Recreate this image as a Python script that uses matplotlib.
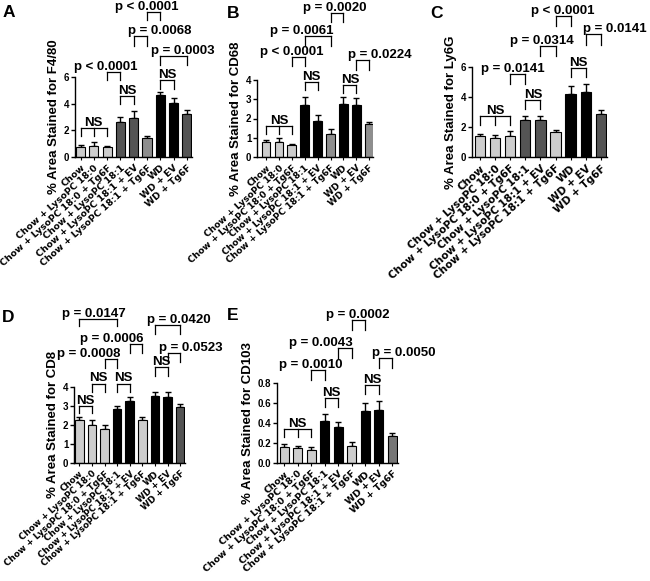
import numpy as np
import matplotlib
matplotlib.use("Agg")
import matplotlib.pyplot as plt

plt.rcParams['font.family'] = ['Liberation Sans', 'DejaVu Sans']
plt.rcParams['font.weight'] = 'bold'

groups = ["Chow", "Chow + LysoPC 18:0", "Chow + LysoPC 18:0 + Tg6F",
          "Chow + LysoPC 18:1", "Chow + LysoPC 18:1 + EV", "Chow + LysoPC 18:1 + Tg6F",
          "WD", "WD + EV", "WD + Tg6F"]

# mean and upper error (SEM) per group
f480_mean = [0.72, 0.85, 0.72, 2.65, 2.95, 1.4, 4.65, 4.02, 3.22]
f480_err = [0.15, 0.3, 0.13, 0.35, 0.5, 0.2, 0.22, 0.38, 0.28]
cd68_mean = [0.8, 0.8, 0.6, 2.68, 1.85, 1.22, 2.73, 2.68, 1.69]
cd68_err = [0.1, 0.17, 0.1, 0.42, 0.35, 0.24, 0.37, 0.36, 0.15]
ly6g_mean = [1.4, 1.24, 1.42, 2.49, 2.49, 1.69, 4.22, 4.33, 2.87]
ly6g_err = [0.13, 0.25, 0.29, 0.27, 0.27, 0.13, 0.51, 0.51, 0.24]
cd8_mean = [2.28, 2.0, 1.79, 2.84, 3.28, 2.28, 3.54, 3.49, 2.95]
cd8_err = [0.12, 0.28, 0.23, 0.18, 0.22, 0.16, 0.2, 0.23, 0.17]
cd103_mean = [0.16, 0.147, 0.13, 0.42, 0.36, 0.17, 0.52, 0.533, 0.27]
cd103_err = [0.03, 0.026, 0.03, 0.07, 0.055, 0.04, 0.08, 0.087, 0.03]

# significance brackets: bars, line height, tick bottom, label, label x
f480_sig = [([0, 1, 2], 2.18, 1.6, "NS", 1), ([2, 3], 6.35, 5.8, "p < 0.0001", 1.9),
            ([3, 4], 4.55, 4.0, "NS", 3.5), ([6, 7], 5.8, 5.1, "NS", 6.5),
            ([6, 8], 7.6, 6.93, "p = 0.0003", 7.67), ([4, 5], 9.05, 8.3, "p = 0.0068", 5.95),
            ([5, 6], 10.85, 10.25, "p < 0.0001", 4.95)]
cd68_sig = [([0, 1, 2], 1.6, 1.22, "NS", 1), ([2, 3], 5.17, 4.73, "p < 0.0001", 2.0),
            ([3, 4], 3.91, 3.48, "NS", 3.5), ([3, 5], 6.26, 5.77, "p = 0.0061", 2.75),
            ([5, 6], 7.48, 6.99, "p = 0.0020", 5.35), ([6, 7], 3.74, 3.3, "NS", 6.5),
            ([7, 8], 5.04, 4.52, "p = 0.0224", 8.85)]
ly6g_sig = [([0, 1, 2], 2.71, 2.11, "NS", 1), ([2, 3], 5.51, 4.89, "p = 0.0141", 2.2),
            ([3, 4], 3.82, 3.22, "NS", 3.5), ([4, 5], 7.38, 6.71, "p = 0.0314", 4.1),
            ([5, 6], 9.38, 8.71, "p < 0.0001", 5.5), ([6, 7], 5.93, 5.33, "NS", 6.5),
            ([7, 8], 8.18, 7.44, "p = 0.0141", 8.9)]
cd8_sig = [([0, 1], 3.02, 2.63, "NS", 0.5), ([1, 2], 4.18, 3.72, "NS", 1.5),
           ([2, 3], 5.47, 5.0, "p = 0.0008", 0.72), ([3, 4], 4.18, 3.72, "NS", 3.5),
           ([4, 5], 6.28, 5.79, "p = 0.0006", 2.6), ([0, 3], 7.58, 7.19, "p = 0.0147", 1.17),
           ([6, 7], 5.05, 4.56, "NS", 6.5), ([6, 8], 7.28, 6.81, "p = 0.0420", 7.87),
           ([7, 8], 5.79, 5.3, "p = 0.0523", 8.85)]
cd103_sig = [([0, 1, 2], 0.343, 0.26, "NS", 1), ([2, 3], 0.927, 0.833, "p = 0.0010", 1.97),
             ([3, 4], 0.65, 0.56, "NS", 3.5), ([4, 5], 1.153, 1.053, "p = 0.0043", 2.7),
             ([5, 6], 1.427, 1.327, "p = 0.0002", 5.47), ([6, 7], 0.777, 0.687, "NS", 6.5),
             ([7, 8], 1.053, 0.953, "p = 0.0050", 8.85)]

L, D, M, K = "#cdcdcd", "#545454", "#8e8e8e", "#000000"

# panel setup: letter, means, errors, brackets, ylabel, yticks, colours,
# pixel box (spine x, first bar x, bar step, right end, y of top tick, y of zero)
panels = [
    ("A", f480_mean, f480_err, f480_sig, "F4/80", [0, 2, 4, 6], [L, L, L, D, D, M, K, K, D],
     (75, 80.5, 13.3, 192, 77, 157), (3, 5)),
    ("B", cd68_mean, cd68_err, cd68_sig, "CD68", [0, 1, 2, 3, 4], [L, L, L, K, K, M, K, K, M],
     (257, 266, 12.9, 373, 80, 157), (227, 6)),
    ("C", ly6g_mean, ly6g_err, ly6g_sig, "Ly6G", [0, 2, 4, 6], [L, L, L, D, D, L, K, K, D],
     (472, 480, 15.1, 607, 67, 157), (430, 6)),
    ("D", cd8_mean, cd8_err, cd8_sig, "CD8", [0, 1, 2, 3, 4], [L, L, L, K, K, L, K, K, D],
     (74, 79.3, 12.6, 185, 387, 463), (2, 310)),
    ("E", cd103_mean, cd103_err, cd103_sig, "CD103", [0, 0.2, 0.4, 0.6, 0.8],
     [L, L, L, K, K, L, K, K, "#767676"],
     (277, 284.3, 13.5, 398, 383, 463), (227, 308)),
]

W, H = 650, 581
fig = plt.figure(figsize=(W / 100, H / 100), dpi=100)

for letter, mean, err, sig, marker, yt, cols, box, lpos in panels:
    sx, c0, step, rx, ytop, ybot = box
    ax = fig.add_axes([sx / W, 1 - ybot / H, (rx - sx) / W, (ybot - ytop) / H])
    x = np.arange(len(groups))
    ax.bar(x, mean, width=0.68, color=cols, edgecolor="black", linewidth=0.8, zorder=2)
    ax.errorbar(x, mean, yerr=[np.zeros(len(err)), err], fmt="none", ecolor="black",
                elinewidth=1, capsize=2.2, capthick=1, zorder=1)
    ax.set_xlim(-(c0 - sx) / step, 8 + (rx - (c0 + 8 * step)) / step)
    ax.set_ylim(0, yt[-1])
    ax.set_yticks(yt)
    if isinstance(yt[1], float):
        ax.set_yticklabels([f"{v:.1f}" for v in yt])
    ax.set_xticks(x)
    # label size follows the bar spacing of each panel
    ax.set_xticklabels(groups, rotation=42, ha="right", rotation_mode="anchor",
                       fontsize=0.5 * step, family="DejaVu Sans", fontweight="bold")
    ax.tick_params(axis="y", direction="out", length=3, width=1, labelsize=7, pad=1)
    ax.tick_params(axis="x", direction="out", length=2.5, width=0.8, pad=2)
    for s in ["top", "right"]:
        ax.spines[s].set_visible(False)
    for s in ["left", "bottom"]:
        ax.spines[s].set_linewidth(1)
    ax.set_ylabel("% Area Stained for " + marker, fontsize=9.5, fontweight="bold", labelpad=3)

    for ticks, yl, yd, label, tx in sig:
        ax.plot([ticks[0], ticks[-1]], [yl, yl], color="black", lw=0.9, clip_on=False)
        for t in ticks:
            ax.plot([t, t], [yd, yl], color="black", lw=0.9, clip_on=False)
        ax.annotate(label, (tx, yl), xytext=(0, 1.5), textcoords="offset points",
                    ha="center", va="baseline", fontsize=9.5, fontweight="bold",
                    annotation_clip=False)

    fig.text(lpos[0] / W, 1 - lpos[1] / H, letter, fontsize=12.5, fontweight="bold",
             ha="left", va="top")

fig.savefig("out.png", dpi=100)
